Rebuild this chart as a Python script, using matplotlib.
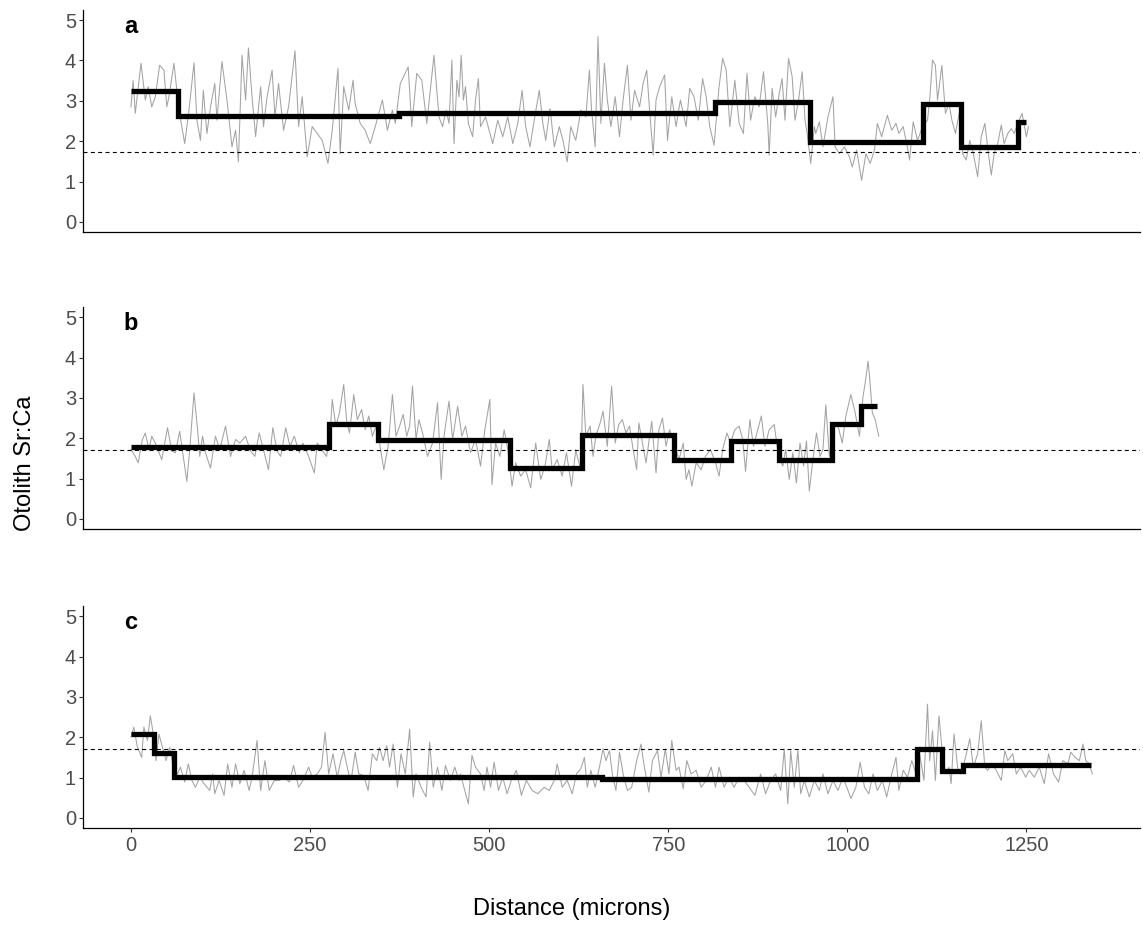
import matplotlib
matplotlib.use("Agg")
import matplotlib.pyplot as plt

plt.rcParams['font.family'] = ['Liberation Sans', 'DejaVu Sans']

# ---- raw Sr:Ca transects (distance in microns, ratio) ----
a_dist = [0, 3, 6, 14, 20, 24, 29, 34, 40, 46, 50, 53, 60, 67, 71, 75, 81, 88, 92, 97,
          101, 106, 111, 117, 120, 127, 134, 141, 146, 150, 155, 160, 164, 169, 174, 181,
          185, 190, 197, 201, 206, 213, 220, 229, 234, 239, 246, 253, 260, 267, 275, 281,
          289, 292, 297, 304, 310, 313, 320, 327, 334, 341, 351, 358, 365, 369, 376, 387,
          392, 399, 406, 413, 423, 430,
          435, 440, 444, 448, 451, 455, 458, 461, 464, 467, 471, 477, 481, 485, 488, 495,
          505, 512, 519, 526, 533, 540, 546, 551, 557, 563, 570, 575, 579, 585, 591, 598,
          603, 609, 614, 621, 628, 635, 640, 643, 648, 652, 656, 661, 665, 670, 676, 682,
          687, 693, 698, 703, 710, 715, 720, 724, 729, 733, 738, 745, 749, 755, 761, 767,
          775, 780, 786, 792, 798, 803, 808, 814, 821, 826, 831, 836, 843, 849, 855, 860,
          865, 871, 877, 883, 889, 891, 895, 900, 905, 909, 913, 918, 923, 927, 932, 937,
          941, 944, 949, 954,
          956, 961, 966, 973, 980, 983, 989, 996, 1003, 1007, 1013, 1020, 1026, 1032, 1038,
          1042, 1048, 1056, 1062, 1068, 1072, 1078, 1083, 1087, 1092, 1098, 1105, 1112,
          1115, 1119, 1123, 1126, 1132, 1137, 1142, 1146, 1151, 1157, 1161, 1166, 1171,
          1176, 1182, 1187, 1192, 1197, 1201, 1205, 1210, 1215, 1219, 1224, 1229, 1233,
          1238, 1244, 1250, 1253]
a_ratio = [2.85, 3.5, 2.69, 3.93, 3.02, 3.35, 2.85, 3.1, 3.88, 3.76, 2.85, 3.1, 3.93, 2.77,
           2.36, 1.94, 2.77, 3.94, 2.52, 2.02, 3.26, 2.19, 2.85, 3.43, 2.52, 3.97, 3.02, 1.86,
           2.27, 1.49, 4.13, 3.02, 4.31, 3.1, 2.11, 3.35, 2.36, 3.1, 3.76, 2.6, 3.43, 2.27,
           2.85, 4.24, 2.36, 3.1, 1.61, 2.36, 2.19, 2.02, 1.45, 2.27, 3.8, 1.69, 3.35, 2.77,
           3.51, 2.93, 2.44, 2.27, 1.94, 2.36, 3.02, 2.27, 2.77, 2.44, 3.43, 3.84, 2.36, 3.68,
           3.51, 2.44, 4.13, 2.6,
           2.36, 2.77, 2.44, 4.01, 1.94, 3.51, 3.1, 4.13, 3.02, 3.35, 2.44, 2.11, 3.02, 3.55,
           2.36, 2.6, 1.94, 2.52, 2.11, 2.6, 1.94, 2.44, 3.26, 2.36, 1.86, 2.52, 3.26, 2.44,
           2.02, 2.81, 1.86, 2.36, 2.02, 1.49, 2.36, 2.02, 2.77, 2.6, 3.76, 2.77, 1.86, 4.59,
           2.44, 3.93, 3.02, 2.36, 3.1, 2.11, 3.02, 3.88, 2.52, 3.26, 2.85, 3.43, 3.76, 2.77,
           1.65, 3.02, 3.35, 3.64, 2.02, 3.1, 2.36, 3.02, 2.36, 3.31, 3.1, 2.52, 3.55, 3.1,
           2.36, 1.90, 3.35, 4.05, 3.76, 2.36, 3.51, 2.44, 2.19, 3.68, 2.52, 3.1, 2.85, 3.72,
           2.44, 1.65, 3.31, 2.6, 3.18, 3.55, 2.52, 4.05, 3.6, 2.52, 3.02, 3.72, 2.52, 2.19,
           1.45, 2.36,
           2.19, 2.48, 1.86, 2.6, 3.1, 1.86, 1.69, 1.86, 1.61, 1.36, 1.78, 1.03, 1.69, 1.45,
           1.78, 2.44, 2.11, 2.64, 2.27, 2.44, 2.19, 2.36, 1.94, 1.53, 2.48, 2.02, 2.36, 2.52,
           3.02, 4.01, 3.88, 3.02, 3.88, 2.69, 2.93, 2.52, 2.19, 2.77, 1.69, 1.53, 2.02, 1.69,
           1.12, 2.11, 2.44, 1.69, 1.16, 1.69, 1.94, 2.4, 1.94, 2.19, 2.31, 2.19, 2.44, 2.69,
           2.11, 2.36]

b_dist = [0, 6, 10, 16, 20, 25, 29, 34, 43, 51, 57, 62, 68, 73, 78, 82, 88, 93, 96, 100,
          104, 111, 118, 124, 132, 139, 146, 152, 160, 167, 173, 179, 186, 192, 198, 204,
          209, 216, 222, 228, 235, 240, 248, 256, 260, 266, 273, 278, 281, 286, 291, 297,
          301, 305, 311, 316, 322, 327, 332, 337, 342, 347, 353, 359, 365, 370, 375, 380,
          385, 389, 393, 398, 402, 407, 414, 421, 428, 433, 437, 444, 449, 456, 462, 467,
          474, 481, 488, 494, 501, 504, 509, 515, 521, 526, 532, 537, 544, 551, 558, 565,
          572, 578, 584, 588, 595, 602, 608, 615, 621,
          623, 628, 631, 635, 641, 645, 649, 655, 659, 665, 671, 676, 681, 686, 691, 696,
          701, 706, 709, 714, 719, 727, 733, 737, 742, 747, 752, 758, 765, 771, 775, 779,
          783, 789, 796, 802, 809, 816, 821, 826, 832, 837, 843, 849, 854, 858, 864, 869,
          875, 880, 885, 891, 898, 904, 910, 914, 919, 924, 929, 934, 939, 943, 947, 952,
          957, 962, 966, 970, 975, 980, 986, 993, 998, 1005, 1011, 1017, 1022, 1025, 1029,
          1031, 1035, 1039, 1044]
b_ratio = [1.72, 1.55, 1.39, 1.97, 2.13, 1.72, 2.05, 1.88, 1.47, 2.26, 1.68, 1.64, 2.17,
           1.55, 0.93, 1.72, 3.12, 2.21, 1.55, 2.05, 1.64, 1.26, 2.05, 1.72, 2.30, 1.55, 1.97,
           1.88, 2.05, 1.68, 1.55, 2.13, 1.64, 1.22, 2.26, 1.68, 1.55, 2.26, 1.80, 2.05, 1.64,
           1.88, 1.55, 1.14, 1.88, 1.72, 1.55, 2.13, 2.96, 2.30, 2.63, 3.33, 2.46, 2.13, 3.08,
           2.46, 2.71, 2.21, 2.55, 2.05, 2.30, 1.88, 1.22, 1.80, 3.08, 2.05, 2.30, 2.59, 2.05,
           2.30, 3.29, 1.97, 2.46, 2.13, 1.55, 1.88, 2.88, 0.98, 2.05, 2.92, 1.97, 2.79, 2.05,
           2.30, 1.64, 1.97, 1.31, 2.21, 2.96, 0.85, 1.88, 1.55, 2.21, 1.72, 0.81, 1.39, 1.06,
           1.22, 0.77, 1.88, 0.98, 1.31, 1.97, 1.22, 1.47, 1.06, 1.64, 0.81, 1.72,
           1.55, 1.22, 3.33, 2.05, 2.30, 1.55, 2.05, 2.38, 2.67, 1.80, 3.29, 1.88, 2.34, 2.46,
           2.13, 2.30, 1.72, 1.22, 2.38, 1.88, 1.39, 2.42, 1.14, 2.21, 2.50, 1.80, 2.21, 1.88,
           1.47, 1.88, 0.98, 1.22, 0.81, 1.39, 1.22, 1.55, 1.72, 1.39, 1.06, 1.72, 2.13, 1.88,
           2.21, 2.30, 1.97, 1.18, 2.46, 1.80, 2.21, 2.55, 1.80, 2.21, 2.34, 1.55, 1.31, 1.72,
           0.98, 1.64, 0.89, 1.88, 1.31, 1.93, 0.69, 1.47, 2.13, 1.55, 1.72, 2.83, 1.55, 2.21,
           2.38, 1.88, 2.55, 3.08, 2.63, 2.05, 3.04, 3.37, 3.91, 3.54, 2.63, 2.46, 2.05]

c_dist = [0, 4, 9, 15, 18, 23, 27, 32, 35, 39, 44, 49, 54, 59, 65, 69, 75, 80, 85, 90, 96,
          102, 110, 114, 117, 123, 130, 135, 141, 146, 152, 158, 165, 169, 176, 181, 187,
          193, 200, 207, 214, 221, 227, 234, 240, 248, 253, 260, 266, 271, 276, 282, 288,
          293, 297, 304, 308, 313, 318, 325, 331, 337, 343, 347, 352, 357, 361, 366, 372,
          377, 383, 389, 394, 398, 405, 412, 417, 422, 428, 434, 439, 446, 452, 458,
          460, 466, 471, 476, 481, 488, 493, 497, 502, 507, 513, 519, 525, 531, 538, 545,
          552, 560, 568, 577, 584, 591, 595, 602, 609, 616, 622, 628, 633, 637, 642, 648,
          654, 659, 663, 668, 672, 677, 682, 687, 693, 699, 706, 712, 716, 723, 728, 735,
          740, 746, 751, 755, 761, 765, 771, 776, 782, 789, 796, 803, 810, 816, 821, 828,
          835, 842, 849, 856, 863, 871, 879, 886, 893, 900, 907, 912, 917, 921, 926, 931,
          935, 940, 947, 954, 961,
          966, 973, 980, 987, 994, 1001, 1005, 1012, 1018, 1024, 1030, 1036, 1042, 1049,
          1055, 1061, 1068, 1072, 1078, 1084, 1090, 1096, 1101, 1107, 1112, 1115, 1119,
          1123, 1128, 1132, 1137, 1142, 1145, 1149, 1154, 1158, 1164, 1171, 1176, 1182,
          1187, 1192, 1196, 1202, 1208, 1215, 1220, 1224, 1231, 1236, 1242, 1249, 1254,
          1261, 1268, 1275, 1281, 1288, 1295, 1301, 1308, 1312, 1318, 1324, 1329, 1333,
          1338, 1342]
c_ratio = [2.0, 2.25, 1.75, 1.50, 2.25, 1.92, 2.53, 2.0, 1.42, 2.08, 1.75, 1.42, 1.75, 1.26,
           1.09, 1.26, 0.89, 1.34, 0.93, 0.76, 1.01, 0.85, 0.68, 1.09, 0.60, 0.93, 0.56, 1.34,
           0.76, 1.34, 0.85, 1.18, 0.68, 1.01, 1.92, 0.68, 1.42, 0.68, 0.93, 0.93, 1.01, 0.89,
           1.30, 0.76, 0.93, 1.26, 1.01, 1.09, 1.26, 2.12, 1.09, 1.59, 1.01, 1.42, 1.67, 1.09,
           1.01, 1.63, 1.09, 1.05, 0.68, 1.59, 1.42, 1.75, 1.42, 1.79, 1.26, 1.83, 0.76, 1.59,
           1.09, 2.20, 0.52, 1.09, 0.76, 0.52, 1.88, 0.76, 1.26, 0.68, 1.30, 0.93, 1.26, 0.93,
           1.09, 0.68, 0.35, 1.55, 1.26, 1.09, 0.68, 1.26, 0.76, 1.38, 0.68, 1.01, 0.60, 0.93,
           1.18, 0.56, 0.93, 0.68, 0.60, 0.76, 0.68, 0.93, 1.34, 0.76, 0.93, 0.60, 1.09, 1.22,
           1.50, 0.76, 1.18, 0.76, 1.26, 1.71, 1.42, 1.67, 1.09, 0.68, 1.63, 1.09, 0.68, 0.76,
           1.42, 1.83, 1.34, 0.64, 1.42, 1.67, 1.01, 1.71, 1.09, 1.92, 1.18, 1.26, 0.72, 1.42,
           1.09, 1.18, 0.76, 0.93, 1.26, 0.76, 1.26, 0.76, 1.01, 0.76, 1.01, 0.93, 0.76, 0.56,
           1.09, 0.60, 0.93, 1.09, 0.68, 1.71, 0.35, 1.67, 0.76, 1.67, 0.60, 0.93, 0.52, 0.93,
           0.68,
           1.09, 0.60, 0.93, 0.68, 1.01, 0.68, 0.48, 0.76, 1.38, 0.76, 0.60, 1.09, 0.68, 0.93,
           0.52, 1.01, 1.50, 0.68, 1.18, 1.01, 1.42, 1.09, 1.59, 0.93, 2.82, 1.42, 2.16, 0.93,
           2.53, 1.75, 1.09, 1.26, 0.85, 2.08, 1.26, 1.09, 1.42, 1.96, 1.26, 1.59, 2.41, 1.26,
           1.18, 1.34, 1.18, 0.93, 1.67, 1.42, 1.59, 1.09, 1.26, 1.01, 1.18, 1.01, 1.26, 0.85,
           1.59, 1.09, 0.89, 1.42, 1.34, 1.63, 1.50, 1.42, 1.83, 1.42, 1.34, 1.09]

# ---- segment means from the change-point fit ----
a_seg_start = [0, 66, 374, 816, 948, 1106, 1159, 1239]
a_seg_level = [3.24, 2.63, 2.69, 2.98, 1.99, 2.93, 1.85, 2.47]
a_end = 1250

b_seg_start = [0, 276, 345, 529, 630, 758, 838, 905, 979, 1019]
b_seg_level = [1.78, 2.34, 1.95, 1.26, 2.07, 1.47, 1.94, 1.47, 2.34, 2.81]
b_end = 1042

c_seg_start = [0, 32, 60, 657, 1097, 1132, 1162]
c_seg_level = [2.07, 1.60, 1.01, 0.97, 1.70, 1.16, 1.30]
c_end = 1340

threshold = 1.72
panel_labels = ['a', 'b', 'c']
x_ticks = [0, 250, 500, 750, 1000, 1250]
y_ticks = [0, 1, 2, 3, 4, 5]

panels = [
    (a_dist, a_ratio, a_seg_start, a_seg_level, a_end),
    (b_dist, b_ratio, b_seg_start, b_seg_level, b_end),
    (c_dist, c_ratio, c_seg_start, c_seg_level, c_end),
]

fig = plt.figure(figsize=(11.43, 9.26), dpi=100)
bottoms = [0.7495, 0.4287, 0.1058]
axes = [fig.add_axes([0.0726, b, 0.925, 0.2397]) for b in bottoms]

for i, (ax, (dist, ratio, seg_x, seg_y, seg_end)) in enumerate(zip(axes, panels)):
    ax.plot(dist, ratio, color='#a3a3a3', lw=0.75, zorder=2)
    ax.step(seg_x + [seg_end], seg_y + [seg_y[-1]], where='post',
            color='black', lw=3.8, solid_joinstyle='miter', solid_capstyle='butt', zorder=3)
    ax.axhline(threshold, color='black', lw=0.8, ls=(0, (3.6, 3)), zorder=4)
    ax.text(0, 4.68, panel_labels[i], ha='center', va='baseline',
            fontsize=17, fontweight='bold')

    ax.set_xlim(-67, 1409)
    ax.set_ylim(-0.25, 5.25)
    ax.set_yticks(y_ticks)
    for side in ['top', 'right']:
        ax.spines[side].set_visible(False)
    for side in ['left', 'bottom']:
        ax.spines[side].set_linewidth(0.9)
    ax.tick_params(axis='y', length=3, width=0.8, color='#333333',
                   labelcolor='#4d4d4d', labelsize=14.5, pad=2)
    if i < 2:
        ax.set_xticks([])
    else:
        ax.set_xticks(x_ticks)
        ax.tick_params(axis='x', length=3, width=0.8, color='#333333',
                       labelcolor='#4d4d4d', labelsize=14.5, pad=3)

fig.text(0.5, 0.018, 'Distance (microns)', ha='center', va='center', fontsize=17)
fig.text(0.022, 0.5, 'Otolith Sr:Ca', ha='center', va='center', rotation=90, fontsize=17)

fig.savefig('out.png', dpi=100)
